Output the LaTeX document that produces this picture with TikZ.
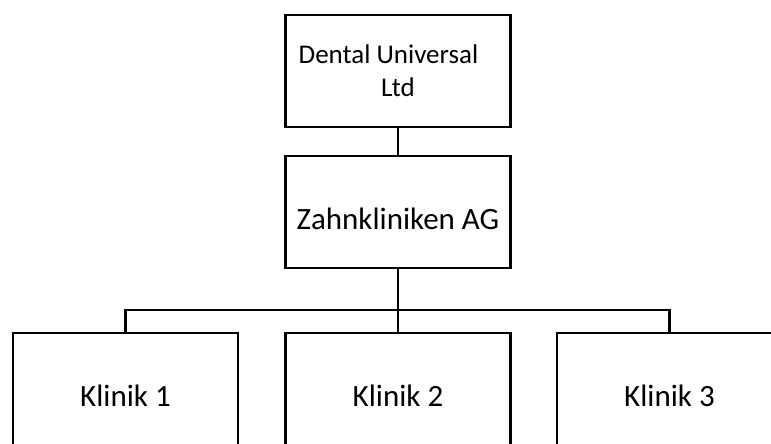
\documentclass[tikz,border=0pt]{standalone}
\usepackage{fontspec}
\setmainfont{Carlito}
\tikzset{
  orgbox/.style={draw=black,line width=2.6pt,minimum width=225pt,minimum height=112pt,
    inner sep=0pt,align=center,text height=34pt,text depth=0pt,
    font=\fontsize{31}{34}\selectfont},
  orgline/.style={draw=black,line width=2.6pt}
}
\begin{document}
\begin{tikzpicture}[x=1pt,y=-1pt]
  \clip (0,0) rectangle (771,444);
  \node[orgbox,text height=,text depth=,font=\fontsize{27}{33}\selectfont] (dental) at (398,71)
    {Dental Universal\hspace*{19pt}\\Ltd};
  \node[orgbox] (zahn) at (398,212) {Zahnkliniken AG};
  \node[orgbox] (k1) at (125.5,389) {Klinik 1};
  \node[orgbox] (k2) at (398,389) {Klinik 2};
  \node[orgbox] (k3) at (669.5,389) {Klinik 3};
  \coordinate (split) at (398,310);
  \draw[orgline] (dental.south) -- (zahn.north);
  \draw[orgline] (zahn.south) -- (split);
  \draw[orgline] (k1.north) |- (split) -| (k3.north);
  \draw[orgline] (split) -- (k2.north);
\end{tikzpicture}
\end{document}
